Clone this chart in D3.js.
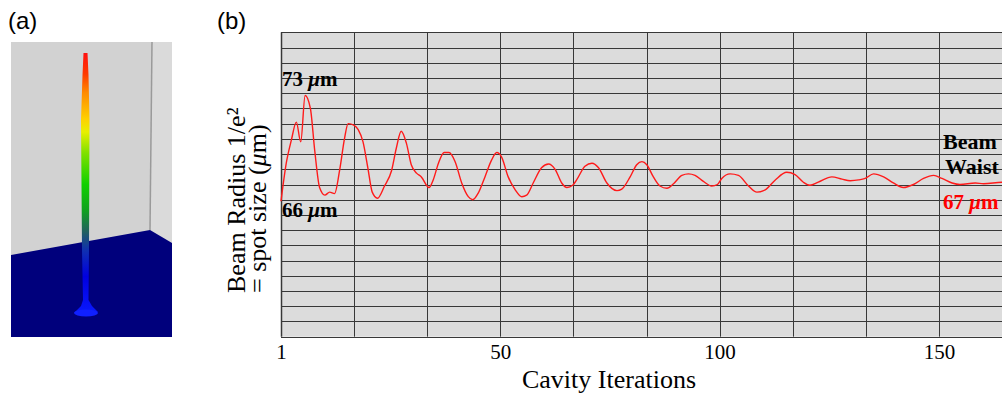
<!DOCTYPE html>
<html>
<head>
<meta charset="utf-8">
<script src="https://cdn.jsdelivr.net/npm/d3@7"></script>
<style>
  html, body { margin: 0; padding: 0; background: #fff; }
  svg { display: block; }
</style>
</head>
<body>
<svg id="chart" width="1002" height="396"></svg>
<script>
// 迭代次数（横轴）与光束半径（µm）读数
const iterations = [0, 1.2, 2.35, 3.5, 4.5, 5.5, 6.7, 7.7, 8.8, 10, 11.1, 12.2, 13.4, 14.5, 15.3,
  16.6, 17.6, 18.7, 19.8, 20.8, 22, 23.6, 25.2, 26.3, 27.4, 28.6, 29.7, 30.9, 32, 33.75,
  34.7, 35.9, 37.2, 38.3, 39.7, 41.2, 42.7, 43.7, 45, 46.5, 48, 49.2, 50.3, 51.8, 53.4,
  54.9, 56, 57.5, 59.4, 61, 62.5, 64, 65.2, 66.5, 67.4, 69.3, 70.9, 72.4, 74.3, 76.6,
  77.7, 79.6, 81.1, 82.3, 83.4, 84.9, 86.4, 88, 89.5, 91.4, 92.9, 94.4, 96.3, 98.2, 99.5,
  100.5, 102.4, 104.3, 106.6, 108.5, 110.4, 112.7, 115.3, 117.2, 119.1, 120.6, 122.5, 125.6,
  127.9, 129.8, 131.7, 133.2, 135.1, 137.4, 139.6, 141.9, 144.2, 146.5, 148.8, 150.7, 153,
  154.8, 158.3, 160.2, 164.5, 166];
const radius = [65.9, 68.4, 69.9, 71.1, 69.8, 72.85, 72.0, 69.2, 66.8, 66.3, 66.5, 66.4, 68.0, 70.05, 71.0,
  70.9, 70.6, 69.8, 68.1, 66.5, 66.1, 66.9, 67.9, 69.4, 70.5, 69.7, 68.3, 67.75, 67.5, 66.8,
  67.3, 68.4, 69.1, 69.1, 68.5, 67.1, 66.2, 66.0, 66.45, 67.5, 68.6, 69.1, 68.8, 67.5, 66.65,
  66.2, 66.3, 67.1, 68.1, 68.35, 68.0, 67.1, 66.8, 66.95, 67.3, 68.2, 68.4, 68.1, 67.1, 66.6,
  66.7, 67.5, 68.3, 68.5, 68.3, 67.5, 66.9, 66.75, 67.05, 67.6, 67.7, 67.6, 67.2, 66.9, 67.0,
  67.4, 67.7, 67.6, 66.9, 66.5, 66.65, 67.3, 67.8, 67.65, 67.15, 66.95, 67.15, 67.5,
  67.35, 67.25, 67.3, 67.4, 67.7, 67.5, 67.1, 66.8, 67.0, 67.4, 67.6, 67.4, 67.1,
  67.0, 67.1, 67.05, 67.15, 67.1];
const xTickValues = [0, 50, 100, 150];
const xTickLabels = ["1", "50", "100", "150"];
const xGridStep = 50 / 3;
const yDomain = [57, 77];

const svg = d3.select("#chart");
const defs = svg.append("defs");
const serif = "Liberation Serif, Times New Roman, serif";

// ---------- (a) 光斑三维图 ----------
svg.append("text").attr("x", 8).attr("y", 29)
  .attr("font-family", "Liberation Sans, Arial, sans-serif").attr("font-size", 24)
  .text("(a)");

const pa = svg.append("g");
pa.append("rect").attr("x", 11).attr("y", 42).attr("width", 161).attr("height", 295).attr("fill", "#d2d2d2");
pa.append("polygon").attr("points", "152,42 172,42 172,243 150,230").attr("fill", "#dadada");
pa.append("line").attr("x1", 152).attr("y1", 42).attr("x2", 150).attr("y2", 230)
  .attr("stroke", "#9a9a9a").attr("stroke-width", 1.5);
pa.append("polygon").attr("points", "11,255 150,230 172,243 172,337 11,337").attr("fill", "#00007c");

const spikeGrad = defs.append("linearGradient").attr("id", "spike-grad")
  .attr("x1", 0).attr("y1", 0).attr("x2", 0).attr("y2", 1);
[[0, "#ff1010"], [0.08, "#ff3a00"], [0.15, "#ff8a00"], [0.25, "#ffd000"], [0.3, "#e8f000"],
 [0.38, "#80e000"], [0.5, "#10d000"], [0.6, "#10a020"], [0.68, "#206060"], [0.75, "#1030b0"],
 [0.85, "#0000e0"], [1, "#0a1aff"]].forEach(([o, c]) =>
  spikeGrad.append("stop").attr("offset", o).attr("stop-color", c));

pa.append("polygon")
  .attr("points", "83.5,53 87.5,53 88.5,75 89.5,120 89,250 88.5,300 92,306 98,312 86,316 75,312 81,306 83,300 82,250 81,120 82.5,75")
  .attr("fill", "url(#spike-grad)");
pa.append("ellipse").attr("cx", 86).attr("cy", 313).attr("rx", 12).attr("ry", 3.5).attr("fill", "#1020ff");

// ---------- (b) 光束半径随迭代变化 ----------
svg.append("text").attr("x", 217).attr("y", 29)
  .attr("font-family", "Liberation Sans, Arial, sans-serif").attr("font-size", 24)
  .text("(b)");

const x = d3.scaleLinear().domain([0, 10 * xGridStep]).range([281, 1012]);
const y = d3.scaleLinear().domain(yDomain).range([336.7, 32.3]);

const plot = svg.append("g");
plot.append("rect")
  .attr("x", x(0)).attr("y", y(yDomain[1]))
  .attr("width", x(10 * xGridStep) - x(0)).attr("height", y(yDomain[0]) - y(yDomain[1]))
  .attr("fill", "#dcdcdc");

// 网格
plot.append("g").selectAll("line")
  .data(d3.range(yDomain[0], yDomain[1] + 1))
  .join("line")
  .attr("x1", x(0)).attr("x2", x(10 * xGridStep))
  .attr("y1", d => Math.round(y(d)) + 0.5).attr("y2", d => Math.round(y(d)) + 0.5)
  .attr("stroke", "#383838").attr("stroke-width", 1);

plot.append("g").selectAll("line")
  .data(d3.range(0, 11).map(i => i * xGridStep))
  .join("line")
  .attr("x1", d => Math.round(x(d)) + 0.5).attr("x2", d => Math.round(x(d)) + 0.5)
  .attr("y1", y(yDomain[1])).attr("y2", y(yDomain[0]))
  .attr("stroke", "#383838").attr("stroke-width", d => d === 0 ? 1.5 : 1);

// 横轴刻度
const xAxis = d3.axisBottom(x).tickValues(xTickValues)
  .tickFormat((d, i) => xTickLabels[i]).tickSize(0).tickPadding(0);
const xg = svg.append("g").attr("transform", `translate(0,${y(yDomain[0])})`).call(xAxis);
xg.select(".domain").remove();
xg.selectAll("text")
  .attr("dy", null).attr("y", 22)
  .attr("font-family", serif).attr("font-size", 21)
  .attr("fill", "#000");

svg.append("text").attr("x", 609).attr("y", 388).attr("text-anchor", "middle")
  .attr("font-family", serif).attr("font-size", 26)
  .text("Cavity Iterations");

const yLab = svg.append("text")
  .attr("transform", "translate(0,293) rotate(-90)")
  .attr("font-family", serif).attr("font-size", 26);
yLab.append("tspan").attr("x", 0).attr("y", 245).text("Beam Radius 1/e²");
yLab.append("tspan").attr("x", 0).attr("y", 266).text("= spot size (");
yLab.append("tspan").attr("font-style", "italic").text("μ");
yLab.append("tspan").text("m)");

// 曲线
const line = d3.line()
  .x((d, i) => x(iterations[i]))
  .y(d => y(d))
  .curve(d3.curveMonotoneX);
plot.append("path")
  .datum(radius)
  .attr("fill", "none")
  .attr("stroke", "#ff1a1a")
  .attr("stroke-width", 1.4)
  .attr("d", line);

// 标注
function umLabel(px, py, value, color) {
  const t = svg.append("text").attr("x", px).attr("y", py)
    .attr("font-family", serif).attr("font-size", 21)
    .attr("font-weight", "bold").attr("fill", color);
  t.append("tspan").text(value + " ");
  t.append("tspan").attr("font-style", "italic").text("μ");
  t.append("tspan").text("m");
}
umLabel(x(0) + 1, 86, 73, "#000");
umLabel(x(0) + 1, 217, 66, "#000");
umLabel(943, 209, 67, "#ff0000");

svg.append("text").attr("x", 943).attr("y", 149)
  .attr("font-family", serif).attr("font-size", 22)
  .attr("font-weight", "bold").text("Beam");
svg.append("text").attr("x", 945).attr("y", 174)
  .attr("font-family", serif).attr("font-size", 22)
  .attr("font-weight", "bold").text("Waist");
</script>
</body>
</html>
